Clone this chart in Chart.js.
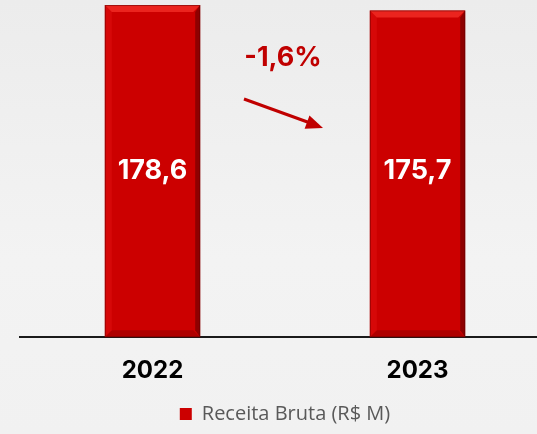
<!DOCTYPE html>
<html>
<head>
<meta charset="utf-8">
<script src="https://cdn.jsdelivr.net/npm/chart.js@4"></script>
<style>
  html, body { margin: 0; padding: 0; overflow: hidden; }
  body { width: 537px; height: 434px; background: linear-gradient(180deg, #ececec 0%, #f3f3f3 60%, #f1f1f1 100%); }
  #wrap { width: 550px; height: 434px; position: relative; }
</style>
</head>
<body>
<div id="wrap"><canvas id="canvas-receita"></canvas></div>
<script>
var anos = ['2022', '2023'];
var receita = [178.6, 175.7];
var rotulos = ['178,6', '175,7'];
var variacao = '-1,6%';

// bevel and value text drawn over the bars
var chanfro = {
    id: 'chanfro',
    afterDatasetsDraw: function (chart) {
        var c = chart.ctx;
        var meta = chart.getDatasetMeta(0);
        meta.data.forEach(function (bar, i) {
            var l = bar.x - bar.width / 2, r = bar.x + bar.width / 2;
            var t = bar.y, b = bar.base, s = 7;
            c.save();
            c.fillStyle = 'rgba(255,60,50,0.6)';
            c.beginPath(); c.moveTo(l, t); c.lineTo(r, t); c.lineTo(r - s, t + s); c.lineTo(l + s, t + s); c.closePath(); c.fill();
            c.fillStyle = 'rgba(255,40,40,0.2)';
            c.beginPath(); c.moveTo(l, t); c.lineTo(l + s, t + s); c.lineTo(l + s, b - s); c.lineTo(l, b); c.closePath(); c.fill();
            c.fillStyle = 'rgba(80,0,0,0.5)';
            c.beginPath(); c.moveTo(r, t); c.lineTo(r, b); c.lineTo(r - s + 2, b - s); c.lineTo(r - s + 2, t + s); c.closePath(); c.fill();
            c.fillStyle = 'rgba(120,0,0,0.35)';
            c.beginPath(); c.moveTo(l, b); c.lineTo(r, b); c.lineTo(r - s, b - s); c.lineTo(l + s, b - s); c.closePath(); c.fill();
            c.strokeStyle = 'rgba(90,0,0,0.5)';
            c.lineWidth = 1;
            c.strokeRect(l + 0.5, t + 0.5, bar.width - 1, b - t - 1);
            c.fillStyle = '#ffffff';
            c.font = 'bold 27px Inter, "DejaVu Sans", sans-serif';
            c.textAlign = 'center';
            c.textBaseline = 'middle';
            c.fillText(rotulos[i], bar.x, 171);
            c.restore();
        });
        // variation label and arrow between the bars
        var xs = chart.scales.x;
        var meio = (xs.getPixelForValue(0) + xs.getPixelForValue(1)) / 2;
        c.save();
        c.fillStyle = '#c00000';
        c.strokeStyle = '#c00000';
        c.font = 'bold 27px Inter, "DejaVu Sans", sans-serif';
        c.textAlign = 'center';
        c.textBaseline = 'middle';
        c.fillText(variacao, meio - 2, 58);
        var x0 = meio - 41, y0 = 99, x1 = meio + 38, y1 = 128;
        c.lineWidth = 3;
        c.beginPath(); c.moveTo(x0, y0); c.lineTo(x1 - 10, y1 - 4); c.stroke();
        var ang = Math.atan2(y1 - y0, x1 - x0);
        c.beginPath();
        c.moveTo(x1, y1);
        c.lineTo(x1 - 17 * Math.cos(ang) + 7 * Math.sin(ang), y1 - 17 * Math.sin(ang) - 7 * Math.cos(ang));
        c.lineTo(x1 - 17 * Math.cos(ang) - 7 * Math.sin(ang), y1 - 17 * Math.sin(ang) + 7 * Math.cos(ang));
        c.closePath(); c.fill();
        c.restore();
    }
};

const ctx = document.getElementById('canvas-receita');
new Chart(ctx, {
    type: 'bar',
    data: {
        labels: anos,
        datasets: [{
            label: 'Receita Bruta (R$ M)',
            data: receita,
            backgroundColor: '#cc0000',
            borderWidth: 0,
            barPercentage: 0.9,
            categoryPercentage: 0.4
        }]
    },
    options: {
        responsive: true,
        maintainAspectRatio: false,
        animation: false,
        layout: { padding: { left: 20, right: 0, top: 0, bottom: 0 } },
        plugins: {
            legend: {
                position: 'bottom',
                labels: {
                    boxWidth: 12,
                    boxHeight: 12,
                    padding: 10,
                    color: '#595959',
                    font: { size: 20, family: '"Open Sans", "DejaVu Sans", sans-serif' }
                }
            },
            tooltip: { enabled: false }
        },
        scales: {
            x: {
                grid: { display: false },
                border: { display: true, color: '#1a1a1a', width: 2 },
                afterFit: function (scale) { scale.height -= 2; },
                ticks: {
                    color: '#000000',
                    padding: 11,
                    font: { size: 24, weight: 'bold', family: 'Inter, "DejaVu Sans", sans-serif' }
                }
            },
            y: {
                display: false,
                beginAtZero: true,
                max: 181.3
            }
        }
    },
    plugins: [chanfro]
});
</script>
</body>
</html>
